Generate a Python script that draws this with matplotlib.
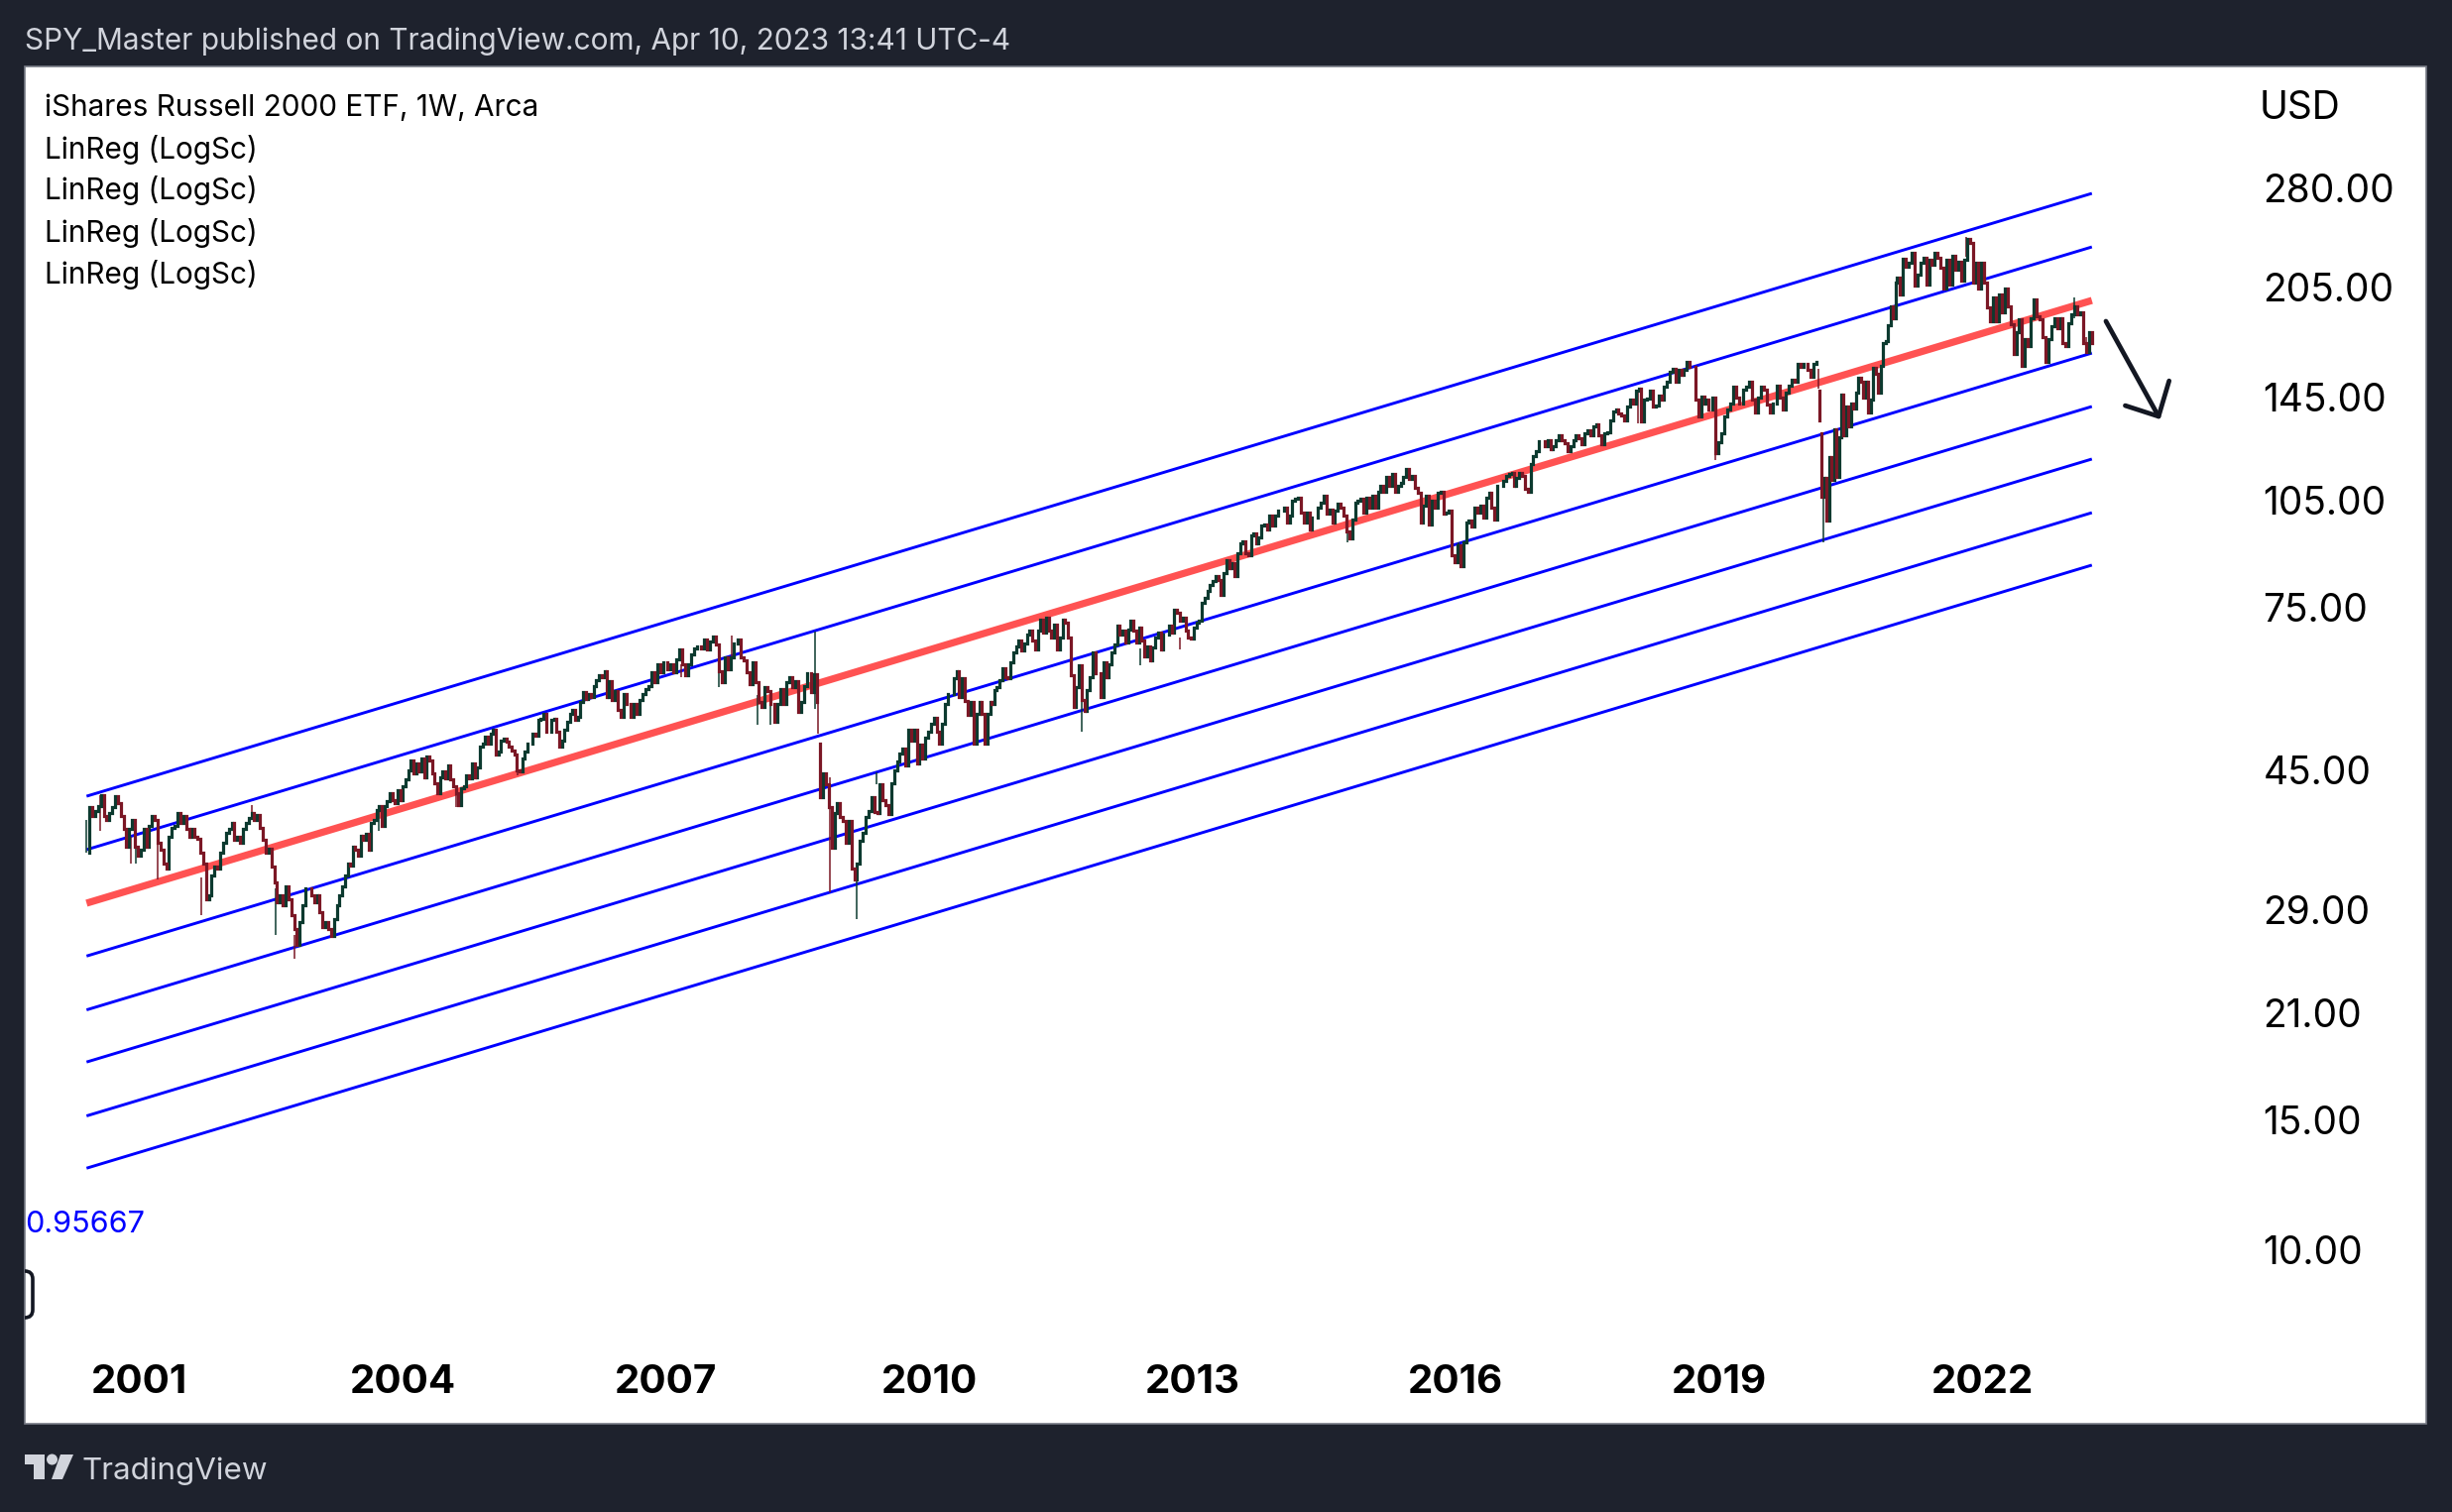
import numpy as np
import matplotlib as mpl, matplotlib.pyplot as plt
from matplotlib.patches import Rectangle, Polygon, Circle, FancyBboxPatch
from matplotlib.ticker import NullLocator

# --- values ---
PRICE_TICKS=[280,205,145,105,75,45,29,21,15,10]
PRICE_LABELS=["280.00","205.00","145.00","105.00","75.00","45.00","29.00","21.00","15.00","10.00"]
YEAR_TICKS=[2001,2004,2007,2010,2013,2016,2019,2022]
LEGEND_LINES=["iShares Russell 2000 ETF, 1W, Arca","LinReg (LogSc)","LinReg (LogSc)","LinReg (LogSc)","LinReg (LogSc)"]

LINE_X=[2000.40,2023.25]
MID_START,MID_END=29.63,196.4
UPPER_START=[41.45,35.05]
UPPER_END=[274.8,232.3]
LOWER_START=[25.1,21.2,18.0,15.2,12.9]
LOWER_END=[166.5,140.8,119.4,100.9,85.6]

# closes per stretch, first number of each stretch is only the open of its first candle
CLOSE_A=[34.7,34.7,40.0,39.0,39.6,40.2,41.6,39.0,38.5,39.3,40.0,41.4,40.5,39.0,37.4,35.4,37.4,38.5,35.4,34.4,35.0,37.4,35.4,37.8,39.0,38.5,35.8,35.0,33.6,33.0,36.5,37.5,37.8,39.3,38.1,39.0,37.4,36.5,37.4,36.5,36.3,34.7,33.6,30.0,30.4,32.3,33.2,33.0,34.7,35.8,36.9,37.4,38.1,36.2,36.5,35.8,37.4,38.1,38.7,39.3,38.5,39.1,37.5,36.2,34.7,35.2,33.2,31.6,29.7,30.4,29.4,31.2,30.0,28.5,27.3,26.0,27.9,29.4,31.0,31.0,30.4,29.7,30.4,28.8,27.5,27.9,27.3,26.7,28.2,29.4,30.4,31.2,32.3,33.6]
CLOSE_B=[33.6,33.3,35.4,35.0,34.4,36.6,36.2,36.8,35.0,38.1,38.5,39.7,40.2,37.8,40.2,40.8,41.8,41.0,40.6,42.3,41.0,42.8,43.7,45.0,46.4,44.5,45.9,44.8,46.6,44.0,46.9,46.4,44.5,43.2,41.8,44.0,44.8,43.8,45.7,43.7,42.8,41.8,40.3,42.5,42.8,44.3,43.8,45.9,44.0,45.4,48.4,48.9,49.9,48.9,50.4,51.0,47.2,47.7,49.4,49.7,49.2,48.4,47.9,47.2,45.0,44.8,46.6,47.7,48.9,48.9,50.4,50.1,52.6,52.9,53.7,50.7,50.7,52.6,52.9,50.7,48.4,49.4,51.0,52.3,53.7,54.3,52.6,53.2,55.7,57.4,56.2,57.1,56.5,58.6,59.6,60.5,60.2,61.4,56.5]
CLOSE_C=[56.5,59.5,56.0,57.7,54.3,53.1,57.1,55.4,53.1,55.4,53.7,56.0,57.1,58.0,58.6,61.1,59.2,62.7,61.1,63.0,61.8,62.7,61.1,63.7,65.7,62.7,60.5,62.7,64.7,66.0,66.4,66.0,67.8,65.7,67.4,68.4,66.7,61.4,59.2,64.0,61.8,64.0,67.0,67.8,64.0,63.4,61.1,58.9,63.0,59.2,55.7,54.8,58.3,57.7,55.4,52.3,55.4,58.0,55.4,59.2,60.2,58.3,59.5,54.0,55.7,58.6,61.0,57.4,60.8,55.7]
CLOSE_D=[48.9,41.3,44.5,43.0,40.0,35.3,39.3,40.6,38.8,38.4,35.8,38.4,33.0,31.9,33.5,36.0,37.0,38.8,39.6,41.3,39.5,39.3,43.0,41.0,40.3,39.2,43.2,44.9,46.2,47.4,48.2,45.7,51.0,49.4,51.0,45.9,48.7,46.7,49.8,50.7,52.0,53.0,50.7,48.9,52.0,55.4,57.1,57.1,60.0,61.4,56.5,60.0,55.8,53.5,55.7,48.9,53.7,55.7,53.7,48.9,53.7,55.7]
CLOSE_E=[55.7,55.4,57.8,58.3,59.6,61.9,60.2,60.0,63.1,65.1,66.4,67.5,65.4,67.0,68.9,69.6,67.5,65.8,69.6,72.2,69.2,72.5,69.6,68.2,71.1,65.8,68.2,72.2,71.4,68.2,60.5,54.9,58.3,62.5,56.0,54.1,57.8,60.2,65.1,60.9,60.9,56.6,63.1,60.2,62.8,65.1,66.8,70.7,68.9,69.6,67.1,70.0,71.8,69.6,67.1,70.3,67.5,64.2,66.4,63.5,66.1,68.2,69.2,65.8,68.9,68.9,70.7,69.2,74.4,73.6,71.8,72.5,69.6,68.2,67.9,70.3,71.4,71.8,76.0,77.2,78.9,80.5,81.4,82.6,81.7,78.0,83.4,87.0,84.7,86.0,82.6,88.8,91.6,92.1,88.8,88.3,94.0,94.5,91.6]
CLOSE_F=[91.6,93.5,96.9,97.3,95.8,100.0,96.9,100.0,101.5,101.5,102.6,97.9,100.0,104.7,105.3,105.9,101.0,97.9,101.0,95.8,99.5,99.5,102.6,104.2,106.4,100.5,102.0,97.9,101.5,103.7,102.6,100.0,95.0,93.0,98.9,104.2,104.7,105.3,101.0,105.9,102.6,106.4,102.6,107.9,109.8,107.9,112.8,109.8,113.8,107.9,109.8,110.9,112.8,115.9,112.2,113.2,109.2,107.4,97.9,103.1,106.4,97.3,104.7,102.6,107.4,107.9,100.5,101.0,101.5,88.3,86.3,91.1,85.2,92.0,97.9,98.4,96.5,102.6,101.0,103.1,99.5,105.9,107.4,102.6,98.9,109.8,109.8,111.4,113.2,113.8,114.2,109.8]
CLOSE_G=[109.8,112.7,114.4,113.2,108.7,107.6,117.4,120.5,122.4,126.2,126.2,124.3,126.8,123.0,124.3,126.8,128.8,126.8,125.5,122.4,124.3,126.8,128.8,127.5,125.0,129.5,130.7,128.8,132.3,133.0,128.8,125.0,129.5,130.0,135.0,138.5,139.5,137.8,137.0,135.0,140.7,143.7,142.2,148.0,148.8,134.3,143.7,144.5,148.0,140.7,141.4,145.9,143.7,149.8,152.0,157.0,158.6,152.0,157.8,155.4,157.8,162.0,159.4,159.4,143.7,136.4,145.2,142.2]
CLOSE_H=[142.2,144.0,139.5,145.0,121.8,125.7,129.6,136.6,139.5,142.0,150.0,145.0,142.0,148.4,150.0,152.0,144.0,138.0,145.0,150.0,148.4,141.5,138.0,142.0,150.5,145.0,139.5,147.0,150.5,153.0,152.0,161.0,159.5,161.0,158.0,154.7,161.0,161.9]
CLOSE_I=[148.0,135.0]
CLOSE_J=[129.5,106.0,112.5,98.6,120.0,112.0,131.0,113.0,128.0,146.0,128.6,141.0,132.4,142.0,140.0,147.0,154.0,152.0,145.0,152.0,138.0,144.0,159.0,156.0,147.0,160.0,172.0,172.8,181.8,193.0,186.0,208.0]
CLOSE_K=[208.0,211.0,200.0,224.0,218.0,221.0,228.0,206.0,213.0,221.0,224.6,206.6,223.0,220.0,228.0,224.6,217.7,203.6,223.0,206.6,226.0,216.0,221.6,209.0,223.0,238.0,235.0,208.0,221.0,204.0,221.0,208.0,192.0,184.0,198.0,184.0,200.0,189.0,204.0,193.0,182.5,166.0,178.0,185.0,160.0,174.0,170.0,186.0,197.0,187.0,185.0,175.0,162.0,174.0,181.0,186.0,180.0,186.0,172.0,170.0,183.0,188.0,193.0,188.0,189.0,172.0,167.0,178.0,172.0]
STRETCH_CLOSES=[CLOSE_A,CLOSE_B,CLOSE_C,CLOSE_D,CLOSE_E,CLOSE_F,CLOSE_G,CLOSE_H,CLOSE_I,CLOSE_J,CLOSE_K]
STRETCH_START=[2000.40,2003.40,2006.35,2008.76,2010.71,2013.75,2016.69,2018.85,2020.14,2020.17,2021.03]
STRETCH_END=[2003.38,2006.33,2008.72,2010.70,2013.73,2016.67,2018.83,2020.11,2020.14,2021.01,2023.25]

# long wicks only
WICK_YEAR=[2000.40,2000.56,2000.91,2000.96,2001.21,2001.71,2002.28,2002.55,2002.77,2003.73,2004.61,2005.31,2007.18,2007.61,2007.75,2008.05,2008.19,2008.70,2008.74,2008.87,2009.18,2009.40,2011.74,2012.41,2012.86,2014.77,2015.63,2016.03,2016.10,2018.08,2018.96,2020.13,2020.19,2021.82,2023.05,2023.19]
WICK_LOW=[34.7,37.2,33.5,33.5,31.9,28.5,38.5,26.8,24.9,37.2,40.0,44.3,60.2,58.4,64.0,51.8,51.8,54.5,50.4,30.7,28.2,43.0,50.7,62.5,65.8,92.0,97.5,85.9,84.9,133.4,119.0,149.0,92.0,225.0,186.0,166.0]
WICK_HIGH=[38.5,41.6,36.5,37.4,35.8,32.1,40.3,31.0,26.8,40.2,42.8,46.9,62.7,64.0,68.6,57.0,55.4,69.5,58.0,44.0,33.0,44.7,57.8,66.0,68.2,99.0,103.0,92.0,91.0,148.0,140.0,158.5,112.5,239.7,198.0,175.0]
WICK_UP=[1,0,0,1,0,0,0,1,0,1,0,0,0,1,0,1,1,1,0,0,1,1,1,1,0,1,1,1,0,0,0,0,1,0,1,0]

ARROW_YEAR=[2023.41,2024.01]
ARROW_PRICE=[184,136.5]
HEAD_YEAR=[2023.63,2024.01,2024.13]
HEAD_PRICE=[141.2,136.5,152.6]

W,H=2473,1525
DARK="#1E222D"; LIGHT="#D1D4DC"; UP="#0C3A2F"; DOWN="#7B1725"; BLUE="#0000FF"; MID="#FF5252"; INK="#131722"
FONT="Inter"
mpl.rcParams["font.family"]=[FONT,"DejaVu Sans"]

fig=plt.figure(figsize=(W/100,H/100),dpi=100,facecolor=DARK)

# page furniture in image pixels
bg=fig.add_axes([0,0,1,1],zorder=0); bg.set_xlim(0,W); bg.set_ylim(H,0); bg.axis("off")
panel=Rectangle((25,67),2422,1369,fc="white",ec="#787B86",lw=1.2); bg.add_patch(panel)
box=FancyBboxPatch((6,1282),27,47,boxstyle="round,pad=0,rounding_size=8",fc="none",ec=INK,lw=2.6)
bg.add_patch(box); box.set_clip_path(panel)
bg.add_patch(Polygon([(25,1467),(45,1467),(45,1492),(34.5,1492),(34.5,1477),(25,1477)],fc=LIGHT,ec="none"))
bg.add_patch(Circle((52.5,1472),5.5,fc=LIGHT,ec="none"))
bg.add_patch(Polygon([(61,1467),(74,1467),(63,1492),(52,1492)],fc=LIGHT,ec="none"))
bg.text(25,42,"SPY_Master published on TradingView.com, Apr 10, 2023 13:41 UTC-4",color=LIGHT,fontsize=21.45,va="center")
bg.text(83,1484,"TradingView",color=LIGHT,fontsize=22.6,va="center")
for txt,yy in zip(LEGEND_LINES,[109,151,192,235,277]):
    bg.text(45,yy,txt,color="black",fontsize=21.4,va="center")
bg.text(25,1235,"0.95667",color=BLUE,fontsize=22,va="center")
bg.text(2279,109,"USD",color="black",fontsize=28,va="center")

# chart
ax=fig.add_axes([25/W,1-1365/H,(2270-25)/W,(1365-67)/H],zorder=1)
ax.patch.set_alpha(0)
for s in ax.spines.values(): s.set_visible(False)
ax.set_yscale("log"); ax.set_xlim(1999.696,2025.06); ax.set_ylim(7.215,409.3)

for st,en in zip(UPPER_START+LOWER_START,UPPER_END+LOWER_END):
    ax.plot(LINE_X,[st,en],color=BLUE,lw=2.1,solid_capstyle="butt",zorder=2)
ax.plot(LINE_X,[MID_START,MID_END],color=MID,lw=5.2,solid_capstyle="butt",zorder=3)

for closes,st,en in zip(STRETCH_CLOSES,STRETCH_START,STRETCH_END):
    c=np.array(closes,float); o=c[:-1]; c=c[1:]; xs=np.linspace(st,en,len(c))
    up=c>=o
    ax.vlines(xs[up],o[up],c[up],color=UP,lw=2.3,capstyle="projecting",zorder=5)
    ax.vlines(xs[~up],o[~up],c[~up],color=DOWN,lw=2.3,capstyle="projecting",zorder=5)
wup=np.array(WICK_UP)==1
wx=np.array(WICK_YEAR); wl=np.array(WICK_LOW); wh=np.array(WICK_HIGH)
ax.vlines(wx[wup],wl[wup],wh[wup],color=UP,lw=1.1,zorder=4)
ax.vlines(wx[~wup],wl[~wup],wh[~wup],color=DOWN,lw=1.1,zorder=4)

ax.plot(ARROW_YEAR,ARROW_PRICE,color=INK,lw=3.4,solid_capstyle="round",zorder=6)
ax.plot(HEAD_YEAR,HEAD_PRICE,color=INK,lw=3.4,solid_capstyle="round",solid_joinstyle="round",zorder=6)

ax.yaxis.tick_right()
ax.set_yticks(PRICE_TICKS); ax.set_yticklabels(PRICE_LABELS)
ax.yaxis.set_minor_locator(NullLocator())
ax.set_xticks(YEAR_TICKS); ax.set_xticklabels([str(y) for y in YEAR_TICKS],fontweight="bold")
ax.tick_params(axis="y",length=0,pad=9,labelsize=28,labelcolor="black")
ax.tick_params(axis="x",length=0,pad=8,labelsize=29,labelcolor="black")

fig.savefig("out.png",dpi=100,facecolor=DARK)
